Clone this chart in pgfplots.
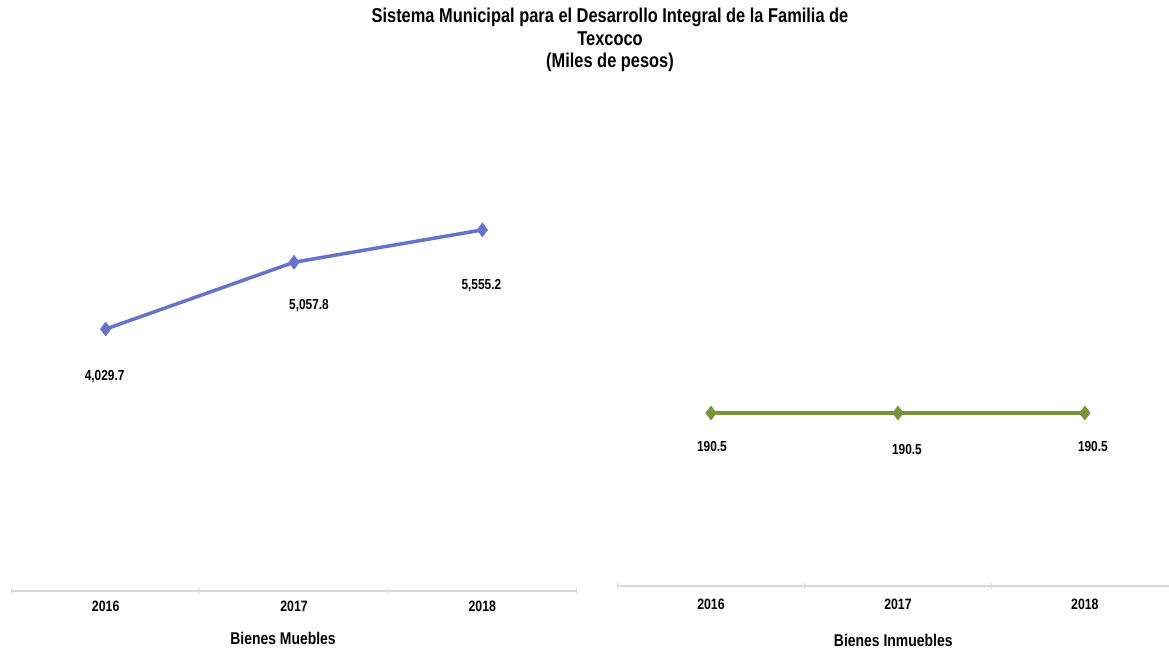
\documentclass[border=0pt]{standalone}
\usepackage{pgfplots}
\pgfplotsset{compat=1.18}
\usepackage{pgfplotstable}
\usepackage{fontspec}
\setmainfont{Liberation Sans}[FakeStretch=0.82]

\definecolor{serieazul}{RGB}{102,114,204}
\definecolor{serieverde}{RGB}{119,147,60}
\definecolor{ejegris}{RGB}{217,217,217}

% x = position of the year, dx/dy = label offset (pt)
\pgfplotstableread{
x y dx dy
0 4029.7 -1 -47
1 5057.8 15 -43
2 5555.2 -1 -56
}\muebles
\pgfplotstableread{
x y dx dy
0 190.5 1 -33
1 190.5 9 -36
2 190.5 8 -33
}\inmuebles

\pgfplotsset{
  panel/.style={
    scale only axis,
    clip=false,
    axis x line*=bottom,
    axis y line=none,
    x axis line style={ejegris, line width=1.2pt},
    ymin=0, xmin=-0.5,
    xtick={0,1,2},
    xticklabels={2016,2017,2018},
    major tick length=0pt,
    extra x tick labels={},
    extra x tick style={major tick length=6pt, tick align=center,
      tick style={ejegris, line width=1pt}},
    xticklabel style={font=\fontsize{15}{17}\selectfont\bfseries},
    xlabel style={font=\fontsize{17}{19}\selectfont\bfseries, anchor=center},
    visualization depends on={\thisrow{dx} \as \dx},
    visualization depends on={\thisrow{dy} \as \dy},
    nodes near coords={\pgfmathprintnumber[fixed,fixed zerofill,precision=1,1000 sep={,},assume math mode=true]{\pgfplotspointmeta}},
    every node near coord/.append style={anchor=center, xshift=\dx pt, yshift=\dy pt,
      font=\fontsize{14.5}{16}\selectfont\bfseries, text=black},
  },
}

\begin{document}
\begin{tikzpicture}[x=1pt,y=1pt]
\useasboundingbox (0,0) rectangle (1169,649);

\node[align=center, font=\fontsize{20}{22.5}\selectfont\bfseries] at (610,609)
  {Sistema Municipal para el Desarrollo Integral de la Familia de\\Texcoco\\(Miles de pesos)};

\begin{axis}[panel,
  at={(11.5pt,58pt)}, anchor=south west,
  width=565pt, height=455pt,
  xmax=2.5, ymax=7000,
  extra x ticks={-0.5,0.5,1.5,2.5},
  xticklabel style={yshift=-6pt},
  xlabel={Bienes Muebles},
  xlabel style={at={(axis description cs:0.5,0)}, yshift=-47pt, xshift=-11pt},
]
\addplot[serieazul, line width=3.5pt, mark=diamond*, mark size=7pt,
  mark options={fill=serieazul, draw=serieazul, line width=0.5pt}]
  table[x=x, y=y] {\muebles};
\end{axis}

\begin{axis}[panel,
  at={(617.5pt,63pt)}, anchor=south west,
  width=551.5pt, height=454pt,
  xmax=2.45, ymax=500,
  extra x ticks={-0.5,0.5,1.5},
  xticklabel style={yshift=-9pt},
  xlabel={Bienes Inmuebles},
  xlabel style={at={(axis description cs:0.5,0)}, yshift=-54pt, xshift=0pt},
]
\addplot[serieverde, line width=3.5pt, mark=diamond*, mark size=7pt,
  mark options={fill=serieverde, draw=serieverde, line width=0.5pt}]
  table[x=x, y=y] {\inmuebles};
\end{axis}
\end{tikzpicture}
\end{document}
